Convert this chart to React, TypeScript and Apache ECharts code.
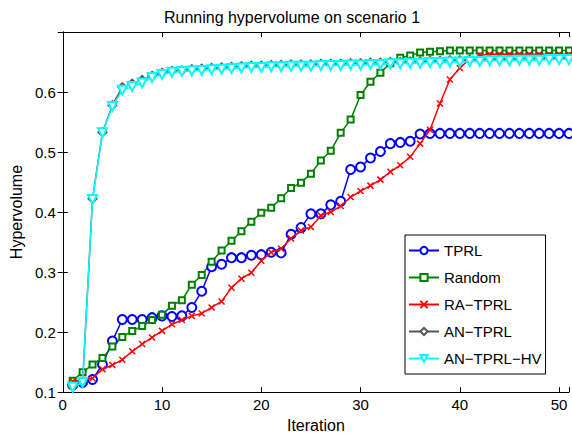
import React, { useEffect, useRef } from "react";
import * as echarts from "echarts";

const iterations: number[] = Array.from({ length: 51 }, (_, i) => i + 1);

const tprl = [
  0.112, 0.116, 0.121, 0.146, 0.185, 0.221, 0.221, 0.221, 0.224, 0.227,
  0.226, 0.227, 0.241, 0.268, 0.309, 0.313, 0.324, 0.324, 0.328, 0.329,
  0.333, 0.332, 0.363, 0.374, 0.397, 0.397, 0.412, 0.418, 0.471, 0.475,
  0.49, 0.501, 0.514, 0.516, 0.518, 0.53, 0.531, 0.531, 0.531, 0.531,
  0.531, 0.531, 0.531, 0.531, 0.531, 0.531, 0.531, 0.531, 0.531, 0.531, 0.531,
];

const random = [
  0.119, 0.133, 0.146, 0.157, 0.176, 0.192, 0.202, 0.21, 0.22, 0.229,
  0.244, 0.253, 0.279, 0.295, 0.317, 0.336, 0.352, 0.368, 0.384, 0.399,
  0.407, 0.423, 0.44, 0.449, 0.464, 0.486, 0.502, 0.532, 0.554, 0.595,
  0.617, 0.632, 0.648, 0.657, 0.661, 0.666, 0.667, 0.668, 0.669, 0.669,
  0.669, 0.669, 0.669, 0.669, 0.669, 0.669, 0.669, 0.669, 0.669, 0.669, 0.669,
];

const raTprl = [
  0.118, 0.12, 0.123, 0.138, 0.145, 0.154, 0.168, 0.18, 0.191, 0.202,
  0.213, 0.22, 0.227, 0.231, 0.241, 0.251, 0.274, 0.289, 0.299, 0.319,
  0.333, 0.339, 0.356, 0.369, 0.375, 0.394, 0.4, 0.41, 0.425, 0.435,
  0.444, 0.454, 0.467, 0.478, 0.492, 0.514, 0.537, 0.581, 0.621, 0.64,
  0.655, 0.661, 0.663, 0.663, 0.663, 0.663, 0.663, 0.663, 0.663, 0.663, 0.663,
];

const anTprl = [
  0.109, 0.117, 0.422, 0.533, 0.578, 0.608, 0.614, 0.62, 0.627, 0.632,
  0.635, 0.636, 0.638, 0.639, 0.64, 0.641, 0.642, 0.643, 0.644, 0.644,
  0.645, 0.645, 0.646, 0.646, 0.646, 0.647, 0.647, 0.647, 0.648, 0.648,
  0.649, 0.649, 0.65, 0.65, 0.651, 0.651, 0.652, 0.652, 0.653, 0.653,
  0.654, 0.654, 0.655, 0.655, 0.655, 0.656, 0.656, 0.656, 0.657, 0.657, 0.657,
];

const anTprlHv = [
  0.108, 0.116, 0.421, 0.532, 0.576, 0.603, 0.609, 0.615, 0.624, 0.629,
  0.633, 0.634, 0.635, 0.636, 0.637, 0.638, 0.639, 0.64, 0.641, 0.641,
  0.642, 0.642, 0.643, 0.643, 0.643, 0.644, 0.644, 0.644, 0.645, 0.645,
  0.646, 0.646, 0.647, 0.647, 0.648, 0.648, 0.649, 0.649, 0.65, 0.65,
  0.651, 0.651, 0.652, 0.652, 0.652, 0.653, 0.653, 0.653, 0.654, 0.654, 0.654,
];

const seriesNames = ["TPRL", "Random", "RA\u2212TPRL", "AN\u2212TPRL", "AN\u2212TPRL\u2212HV"];
const xTicks = [0, 10, 20, 30, 40, 50];
const yTicks = [0.1, 0.2, 0.3, 0.4, 0.5, 0.6];

const FONT = "'Liberation Sans', Arial, Helvetica, sans-serif";

export default function App() {
  const ref = useRef<HTMLDivElement>(null);
  useEffect(() => {
    if (!ref.current) return;
    const chart = echarts.init(ref.current, undefined, { renderer: "svg" });
    const pair = (vals: number[]) => iterations.map((x, i) => [x, vals[i]]);
    const mk = (
      name: string,
      vals: number[],
      color: string,
      symbol: string,
      size: number,
      extra: any = {}
    ) => ({
      name,
      type: "line",
      data: pair(vals),
      symbol,
      symbolSize: size,
      showAllSymbol: true,
      lineStyle: { color, width: 1.5 },
      itemStyle: { color, borderWidth: 1.3 },
      emphasis: { disabled: true },
      z: 2,
      ...extra,
    });
    const axisLine = { show: true, lineStyle: { color: "#000", width: 1 } };
    chart.setOption({
      animation: false,
      backgroundColor: "#fff",
      title: {
        text: "Running hypervolume on scenario 1",
        left: 287,
        textAlign: "center",
        top: 4,
        textStyle: { fontFamily: FONT, fontSize: 16, fontWeight: "normal", color: "#000" },
      },
      grid: { left: 62, right: 2, top: 32, bottom: 38, containLabel: false },
      legend: {
        orient: "vertical",
        left: 405,
        top: 235,
        data: seriesNames,
        itemWidth: 30,
        itemHeight: 9,
        itemGap: 12,
        padding: [8, 4, 8, 3],
        borderColor: "#000",
        borderWidth: 1,
        backgroundColor: "#fff",
        textStyle: { fontFamily: FONT, fontSize: 15, color: "#000", lineHeight: 14 },
        z: 10,
      },
      xAxis: [
        {
          type: "value",
          min: 0,
          max: 51,
          interval: 10,
          name: "Iteration",
          nameLocation: "middle",
          nameGap: 22,
          nameTextStyle: { fontFamily: FONT, fontSize: 16, color: "#000" },
          axisLine,
          axisTick: { show: true, inside: true, length: 5, lineStyle: { color: "#000" } },
          axisLabel: {
            fontFamily: FONT,
            fontSize: 15,
            color: "#000",
            margin: 5,
            formatter: (v: number) => (xTicks.includes(v) ? String(v) : ""),
          },
          splitLine: { show: false },
        },
        {
          type: "value",
          position: "top",
          min: 0,
          max: 51,
          interval: 10,
          axisLine,
          axisTick: { show: true, inside: true, length: 5, lineStyle: { color: "#000" } },
          axisLabel: { show: false },
          splitLine: { show: false },
        },
      ],
      yAxis: [
        {
          type: "value",
          min: 0.1,
          max: 0.7,
          interval: 0.1,
          name: "Hypervolume",
          nameLocation: "middle",
          nameGap: 34,
          nameTextStyle: { fontFamily: FONT, fontSize: 16, color: "#000" },
          axisLine,
          axisTick: { show: true, inside: true, length: 5, lineStyle: { color: "#000" } },
          axisLabel: {
            fontFamily: FONT,
            fontSize: 15,
            color: "#000",
            margin: 7,
            formatter: (v: number) => {
              const r = Math.round(v * 10) / 10;
              return yTicks.some((t) => Math.abs(t - r) < 1e-9) && Math.abs(v - r) < 1e-9
                ? r.toFixed(1)
                : "";
            },
          },
          splitLine: { show: false },
        },
        {
          type: "value",
          position: "right",
          min: 0.1,
          max: 0.7,
          interval: 0.1,
          axisLine,
          axisTick: { show: true, inside: true, length: 5, lineStyle: { color: "#000" } },
          axisLabel: { show: false },
          splitLine: { show: false },
        },
      ],
      series: [
        mk(seriesNames[0], tprl, "#0000ff", "emptyCircle", 9),
        mk(seriesNames[1], random, "#008000", "emptyRect", 6),
        mk(seriesNames[2], raTprl, "#ff0000", "path://M0,0 L10,10 M10,0 L0,10", 6, {
          itemStyle: { color: "rgba(0,0,0,0)", borderColor: "#ff0000", borderWidth: 1.5 },
          z: 3,
        }),
        mk(seriesNames[3], anTprl, "#555555", "emptyDiamond", 8, { z: 4 }),
        mk(seriesNames[4], anTprlHv, "#00ffff", "emptyTriangle", 9, { symbolRotate: 180, z: 5 }),
      ],
    });
    return () => chart.dispose();
  }, []);
  return (
    <div
      ref={ref}
      style={{ position: "fixed", left: 0, top: 0, width: 572, height: 438, background: "#fff" }}
    />
  );
}
